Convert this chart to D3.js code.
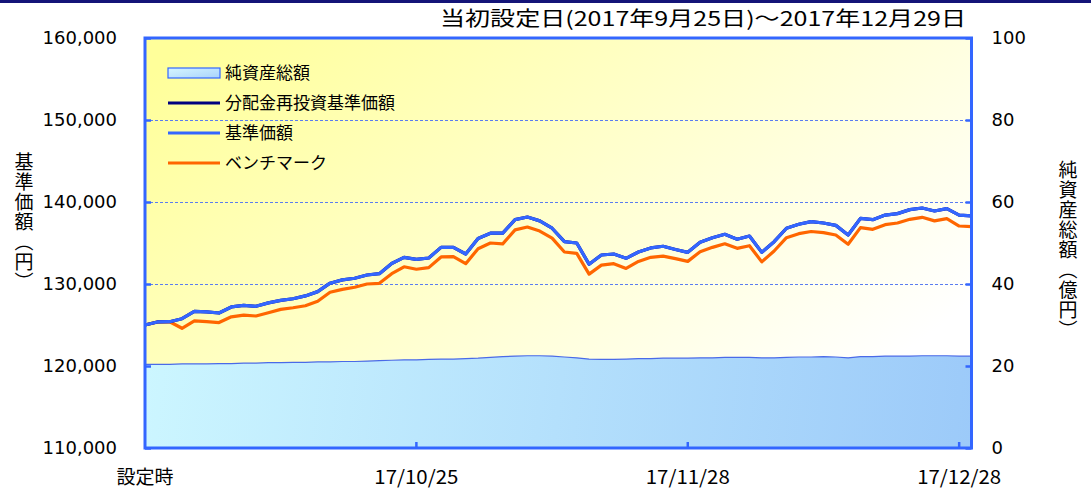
<!DOCTYPE html>
<html>
<head>
<meta charset="utf-8">
<script src="https://cdn.jsdelivr.net/npm/d3@7"></script>
<style>
  body { margin: 0; background: #fff; }
  svg { display: block; }
</style>
</head>
<body>
<svg id="chart" width="1091" height="492"></svg>
<script>
// business days from launch to 2017/12/29
const dates = [
  "2017/09/25","2017/09/26","2017/09/27","2017/09/28","2017/09/29",
  "2017/10/02","2017/10/03","2017/10/04","2017/10/05","2017/10/06",
  "2017/10/09","2017/10/10","2017/10/11","2017/10/12","2017/10/13",
  "2017/10/16","2017/10/17","2017/10/18","2017/10/19","2017/10/20",
  "2017/10/23","2017/10/24","2017/10/25","2017/10/26","2017/10/27",
  "2017/10/30","2017/10/31","2017/11/01","2017/11/02",
  "2017/11/06","2017/11/07","2017/11/08","2017/11/09","2017/11/10",
  "2017/11/13","2017/11/14","2017/11/15","2017/11/16","2017/11/17",
  "2017/11/20","2017/11/21","2017/11/22","2017/11/24",
  "2017/11/27","2017/11/28","2017/11/29","2017/11/30","2017/12/01",
  "2017/12/04","2017/12/05","2017/12/06","2017/12/07","2017/12/08",
  "2017/12/11","2017/12/12","2017/12/13","2017/12/14","2017/12/15",
  "2017/12/18","2017/12/19","2017/12/20","2017/12/21","2017/12/22",
  "2017/12/25","2017/12/26","2017/12/27","2017/12/28","2017/12/29"
];

// 基準価額 (円) — 分配金再投資基準価額 is the same (no distribution)
const navValues = [
  125000,125370,125400,125770,126670,126600,126460,127200,127400,127280,
  127700,128000,128200,128550,129070,130100,130500,130700,131100,131260,
  132500,133250,133000,133170,134470,134470,133660,135550,136200,136200,
  137850,138170,137700,136800,135160,135000,132400,133540,133660,133130,
  133900,134400,134600,134200,133860,135080,135650,136060,135450,135850,
  133860,135160,136800,137280,137600,137440,137150,135970,138000,137850,
  138400,138580,139070,139270,138900,139200,138400,138300
];
const reinvestValues = navValues.slice();

// ベンチマーク
const benchmarkValues = [
  125000,125370,125400,124600,125500,125400,125300,126000,126200,126100,
  126500,126900,127100,127350,127900,129000,129350,129600,130000,130080,
  131260,132100,131800,132000,133300,133330,132480,134300,135000,134900,
  136600,136950,136460,135600,133900,133740,131200,132300,132480,131900,
  132750,133250,133400,133100,132760,133940,134470,134900,134350,134670,
  132700,134020,135650,136140,136400,136260,135970,134840,136870,136670,
  137240,137440,137890,138130,137700,137970,137070,137000
];

// 純資産総額 (億円)
const netAssets = [
  20.4,20.4,20.4,20.5,20.5,20.5,20.6,20.6,20.7,20.7,
  20.8,20.8,20.9,20.9,21.0,21.0,21.1,21.1,21.2,21.3,
  21.4,21.5,21.5,21.6,21.7,21.7,21.8,21.9,22.1,22.3,
  22.4,22.5,22.5,22.4,22.2,22.0,21.7,21.6,21.6,21.7,
  21.8,21.8,21.9,21.9,21.9,22.0,22.0,22.1,22.1,22.1,
  22.0,22.0,22.1,22.2,22.2,22.3,22.2,22.0,22.3,22.3,
  22.4,22.4,22.4,22.5,22.5,22.5,22.4,22.4
];

const navTicks = [110000, 120000, 130000, 140000, 150000, 160000];
const assetTicks = [0, 20, 40, 60, 80, 100];
const xTickDates = ["2017/09/25", "2017/10/25", "2017/11/28", "2017/12/28"];
const xTickLabels = ["設定時", "17/10/25", "17/11/28", "17/12/28"];
const legendNames = ["純資産総額", "分配金再投資基準価額", "基準価額", "ベンチマーク"];

const W = 1091, H = 492;
const plotL = 145, plotR = 971.5, plotT = 38, plotB = 448;
const jp = "'Noto Sans CJK JP', sans-serif";
const num = "'DejaVu Sans', Verdana, sans-serif";

const svg = d3.select("#chart");
const defs = svg.append("defs");

const bgGrad = defs.append("linearGradient")
  .attr("id", "bg-grad")
  .attr("gradientUnits", "userSpaceOnUse")
  .attr("x1", 220).attr("y1", 20).attr("x2", 640).attr("y2", 560);
bgGrad.append("stop").attr("offset", 0).attr("stop-color", "#ffff9a");
bgGrad.append("stop").attr("offset", 1).attr("stop-color", "#ffffff");

const areaGrad = defs.append("linearGradient")
  .attr("id", "area-grad")
  .attr("gradientUnits", "userSpaceOnUse")
  .attr("x1", plotL).attr("y1", 360).attr("x2", plotR).attr("y2", plotB);
areaGrad.append("stop").attr("offset", 0).attr("stop-color", "#ccf6ff");
areaGrad.append("stop").attr("offset", 1).attr("stop-color", "#9ccaf9");

const swatchGrad = defs.append("linearGradient")
  .attr("id", "swatch-grad")
  .attr("x1", 0).attr("y1", 0).attr("x2", 1).attr("y2", 1);
swatchGrad.append("stop").attr("offset", 0).attr("stop-color", "#d6f6ff");
swatchGrad.append("stop").attr("offset", 1).attr("stop-color", "#a8d2fb");

// top band
svg.append("rect").attr("x", 0).attr("y", 0).attr("width", W).attr("height", 3)
  .attr("fill", "#141478");

// title
svg.append("text")
  .attr("x", 966).attr("y", 26)
  .attr("text-anchor", "end")
  .attr("font-family", jp).attr("font-size", 20)
  .attr("textLength", 526).attr("lengthAdjust", "spacingAndGlyphs")
  .text("当初設定日(2017年9月25日)～2017年12月29日");

const x = d3.scalePoint().domain(dates).range([plotL, plotR]);
const y = d3.scaleLinear().domain([110000, 160000]).range([plotB, plotT]);
const y2 = d3.scaleLinear().domain([0, 100]).range([plotB, plotT]);

// plot background
svg.append("rect")
  .attr("x", plotL).attr("y", plotT)
  .attr("width", plotR - plotL).attr("height", plotB - plotT)
  .attr("fill", "url(#bg-grad)");

// grid
svg.append("g")
  .selectAll("line")
  .data(navTicks.slice(1, -1))
  .join("line")
  .attr("x1", plotL).attr("x2", plotR)
  .attr("y1", d => y(d) + 0.5).attr("y2", d => y(d) + 0.5)
  .attr("stroke", "#5a7cf0").attr("stroke-width", 1)
  .attr("stroke-dasharray", "3,2");

// net assets area
const area = d3.area()
  .x((d, i) => x(dates[i]))
  .y0(plotB)
  .y1(d => y2(d));
svg.append("path")
  .datum(netAssets)
  .attr("d", area)
  .attr("fill", "url(#area-grad)");
svg.append("path")
  .datum(netAssets)
  .attr("d", d3.line().x((d, i) => x(dates[i])).y(d => y2(d)))
  .attr("fill", "none").attr("stroke", "#4a6ae8").attr("stroke-width", 1.2);

const line = d3.line()
  .x((d, i) => x(dates[i]))
  .y(d => y(d));

svg.append("path").datum(benchmarkValues).attr("d", line)
  .attr("fill", "none").attr("stroke", "#ff6600").attr("stroke-width", 3.2)
  .attr("stroke-linejoin", "round");
svg.append("path").datum(reinvestValues).attr("d", line)
  .attr("fill", "none").attr("stroke", "#000080").attr("stroke-width", 3.2)
  .attr("stroke-linejoin", "round");
svg.append("path").datum(navValues).attr("d", line)
  .attr("fill", "none").attr("stroke", "#3366ff").attr("stroke-width", 3.2)
  .attr("stroke-linejoin", "round");

// plot border
svg.append("rect")
  .attr("x", plotL).attr("y", plotT)
  .attr("width", plotR - plotL).attr("height", plotB - plotT)
  .attr("fill", "none").attr("stroke", "#3366ff").attr("stroke-width", 3);

// left axis
const yAxis = svg.append("g")
  .attr("transform", `translate(${plotL},0)`)
  .call(d3.axisLeft(y).tickValues(navTicks).tickFormat(d3.format(","))
    .tickSize(-6).tickPadding(28));
yAxis.select(".domain").remove();
yAxis.selectAll(".tick line").attr("stroke", "#3366ff").attr("stroke-width", 2.5);
yAxis.selectAll(".tick text")
  .attr("font-family", num).attr("font-size", 18).attr("fill", "#000");

// right axis
const y2Axis = svg.append("g")
  .attr("transform", `translate(${plotR},0)`)
  .call(d3.axisRight(y2).tickValues(assetTicks).tickSize(-6).tickPadding(20));
y2Axis.select(".domain").remove();
y2Axis.selectAll(".tick line").attr("stroke", "#3366ff").attr("stroke-width", 2.5);
y2Axis.selectAll(".tick text")
  .attr("font-family", num).attr("font-size", 18).attr("fill", "#000");

// bottom ticks
svg.append("g")
  .selectAll("line")
  .data(xTickDates.slice(1))
  .join("line")
  .attr("x1", d => x(d)).attr("x2", d => x(d))
  .attr("y1", plotB).attr("y2", plotB - 6)
  .attr("stroke", "#3366ff").attr("stroke-width", 2.5);

svg.append("g")
  .selectAll("text")
  .data(xTickDates)
  .join("text")
  .attr("x", d => x(d))
  .attr("y", 484)
  .attr("text-anchor", "middle")
  .attr("font-family", jp).attr("font-size", 19)
  .attr("textLength", (d, i) => i === 0 ? null : 84)
  .attr("lengthAdjust", "spacingAndGlyphs")
  .text((d, i) => xTickLabels[i]);

// axis titles (vertical)
svg.append("text")
  .attr("x", 24).attr("y", 152)
  .attr("font-family", jp).attr("font-size", 19)
  .style("writing-mode", "vertical-rl")
  .attr("letter-spacing", 1)
  .text("基準価額（円）");

svg.append("text")
  .attr("x", 1068).attr("y", 160)
  .attr("font-family", jp).attr("font-size", 19)
  .style("writing-mode", "vertical-rl")
  .attr("letter-spacing", 1)
  .text("純資産総額（億円）");

// legend
const legendY = [73, 103, 133, 163];
const legend = svg.append("g");
legend.append("rect")
  .attr("x", 168).attr("y", legendY[0] - 5)
  .attr("width", 52).attr("height", 10)
  .attr("fill", "url(#swatch-grad)")
  .attr("stroke", "#3366ff").attr("stroke-width", 1.2);
const legendColors = [null, "#000080", "#3366ff", "#ff6600"];
legend.selectAll("line")
  .data([1, 2, 3])
  .join("line")
  .attr("x1", 168).attr("x2", 220)
  .attr("y1", i => legendY[i]).attr("y2", i => legendY[i])
  .attr("stroke", i => legendColors[i]).attr("stroke-width", 3);
legend.selectAll("text")
  .data(legendNames)
  .join("text")
  .attr("x", 225)
  .attr("y", (d, i) => legendY[i])
  .attr("dy", "0.35em")
  .attr("font-family", jp).attr("font-size", 17)
  .attr("fill", "#000")
  .text(d => d);
</script>
</body>
</html>
